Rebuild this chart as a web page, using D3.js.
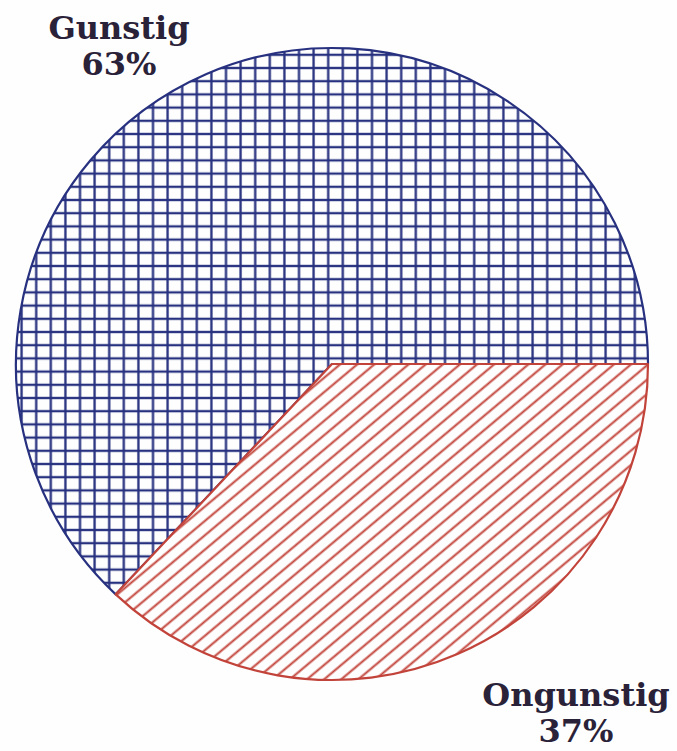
<!DOCTYPE html>
<html>
<head>
<meta charset="utf-8">
<script src="https://cdn.jsdelivr.net/npm/d3@7/dist/d3.min.js"></script>
<style>
  html, body { margin: 0; padding: 0; background: #fefefe; }
  .label { font-family: "DejaVu Serif", serif; font-weight: bold; fill: #2a2238; }
</style>
</head>
<body>
<svg id="chart"></svg>
<script>
const categories = ["Gunstig", "Ongunstig"];
const values = [63, 37];
const pctLabels = ["63%", "37%"];

const W = 677, H = 751;
const cx = 332, cy = 364, R = 316;

const svg = d3.select("#chart").attr("width", W).attr("height", H);
const defs = svg.append("defs");

// blue square grid for Gunstig (lines drawn mid-tile so they aren't clipped)
const gw = 14.6, gh = 13.2;
const grid = defs.append("pattern")
  .attr("id", "grid").attr("patternUnits", "userSpaceOnUse")
  .attr("x", cx - gw / 2).attr("y", cy - gh / 2)
  .attr("width", gw).attr("height", gh);
grid.append("rect").attr("width", gw).attr("height", gh).attr("fill", "#fefefe");
grid.append("line").attr("x1", gw / 2).attr("y1", 0).attr("x2", gw / 2).attr("y2", gh)
  .attr("stroke", "#27317f").attr("stroke-width", 2.3);
grid.append("line").attr("x1", 0).attr("y1", gh / 2).attr("x2", gw).attr("y2", gh / 2)
  .attr("stroke", "#27317f").attr("stroke-width", 2.3);

// red diagonal hatch for Ongunstig
const hs = 11;
const hatch = defs.append("pattern")
  .attr("id", "hatch").attr("patternUnits", "userSpaceOnUse")
  .attr("width", hs).attr("height", hs)
  .attr("patternTransform", "rotate(-40)");
hatch.append("rect").attr("width", hs).attr("height", hs).attr("fill", "#fefefe");
hatch.append("line").attr("x1", 0).attr("y1", hs / 2).attr("x2", hs).attr("y2", hs / 2)
  .attr("stroke", "#c2433a").attr("stroke-width", 2);

const fills = ["url(#grid)", "url(#hatch)"];
const strokes = ["#27317f", "#c2433a"];

// Ongunstig starts at 3 o'clock and runs clockwise
const total = d3.sum(values);
const start = Math.PI / 2 + 2 * Math.PI * values[1] / total;
const pie = d3.pie().sort(null).startAngle(start).endAngle(start + 2 * Math.PI);
const arc = d3.arc().innerRadius(0).outerRadius(R);

const g = svg.append("g").attr("transform", `translate(${cx},${cy})`);
g.selectAll("path.slice")
  .data(pie(values))
  .join("path")
  .attr("class", "slice")
  .attr("d", arc)
  .attr("fill", (d, i) => fills[i])
  .attr("stroke", (d, i) => strokes[i])
  .attr("stroke-width", 2.2)
  .attr("stroke-linejoin", "round");

// labels
const labelPos = [[119, 39], [576, 706]];
categories.forEach((c, i) => {
  const t = svg.append("text").attr("class", "label")
    .attr("text-anchor", "middle")
    .attr("x", labelPos[i][0]).attr("y", labelPos[i][1])
    .style("font-size", "32px");
  t.append("tspan").attr("x", labelPos[i][0]).text(c);
  t.append("tspan").attr("x", labelPos[i][0]).attr("dy", 36).text(pctLabels[i]);
});
</script>
</body>
</html>
